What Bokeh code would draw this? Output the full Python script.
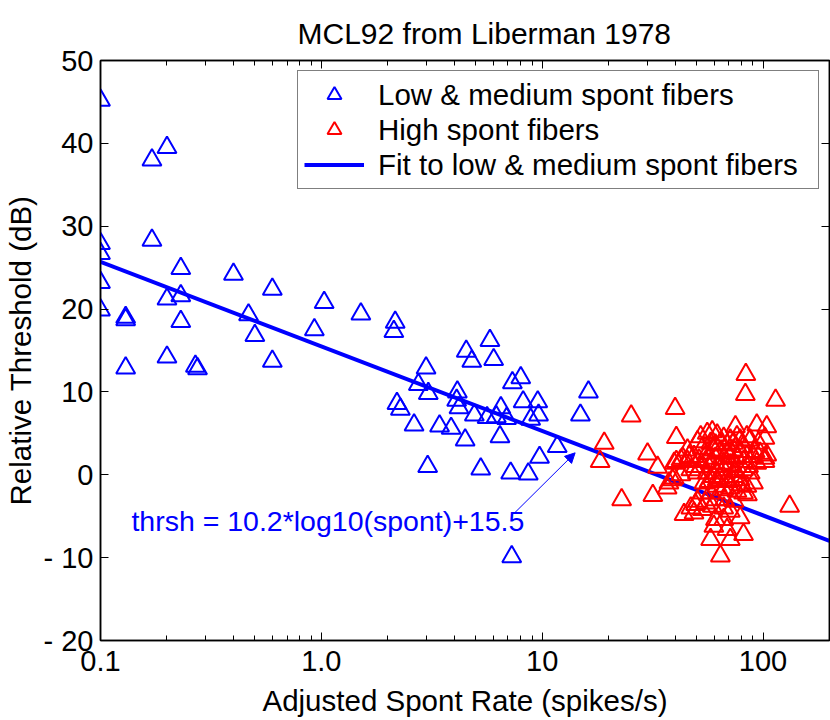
import numpy as np
from bokeh.plotting import figure
from bokeh.models import (Range1d, LogAxis, LinearAxis, FixedTicker, Label, Arrow,
                          NormalHead, Legend, LegendItem, CustomJSTickFormatter)
from bokeh.embed import file_html
from bokeh.resources import INLINE

# ---------------- data ----------------
low_x = [0.1, 0.171, 0.20, 0.1, 0.1, 0.171, 0.231, 0.40, 0.1, 0.60,
         0.20, 0.231, 1.03, 0.1, 0.13, 0.13, 0.468, 0.231, 0.93, 0.50,
         0.20, 0.60, 0.13, 0.269, 0.275, 1.51, 2.16, 2.13, 5.8, 4.53,
         6.03, 4.8, 2.98, 8.0, 7.33, 2.75, 3.05, 16.2, 4.13, 4.1,
         8.2, 9.55, 2.2, 2.28, 4.2, 6.5, 4.93, 5.63, 6.2, 6.9,
         8.87, 9.63, 14.9, 2.63, 3.43, 3.87, 4.48, 6.44, 11.7, 9.73,
         3.03, 5.27, 7.2, 8.65, 7.28]
low_y = [45.2, 38.0, 39.5, 27.9, 26.7, 28.3, 24.9, 24.2, 23.2, 22.4,
         21.2, 21.6, 20.8, 19.9, 19.0, 18.7, 19.3, 18.5, 17.5, 16.8,
         14.2, 13.7, 12.9, 13.1, 12.8, 19.4, 18.4, 17.3, 16.2, 14.9,
         13.9, 13.7, 12.9, 11.7, 11.1, 10.9, 9.8, 10.0, 10.0, 9.0,
         8.8, 8.8, 8.6, 7.9, 8.1, 8.1, 7.2, 6.9, 7.0, 6.8,
         6.7, 7.2, 7.2, 6.0, 5.9, 5.6, 4.2, 4.6, 3.4, 2.1,
         1.0, 0.7, 0.2, 0.1, -9.9]

high_x = [83.6, 83.2, 114, 25.3, 40.0, 40.5, 19.1, 18.3, 30.0, 102,
          22.9, 31.7, 33.3, 38.9, 50.5, 40.5, 43.3, 46.3, 43.9, 47.1,
          49.5, 52.2, 55.9, 58.9, 62.0, 66.4, 71.1, 76.2, 78.8, 39.6,
          42.5, 45.5, 48.7, 51.3, 47.1, 50.4, 42.5, 39.6, 37.5, 36.8,
          55.9, 59.9, 64.1, 68.7, 73.6, 78.8, 84.5, 90.5, 57.9, 62.0,
          66.4, 71.1, 76.2, 81.6, 87.5, 55.9, 59.9, 64.1, 68.7, 73.6,
          78.8, 84.5, 90.5, 62.0, 66.4, 71.1, 76.2, 81.6, 57.9, 54.0,
          50.4, 55.0, 58.9, 66.4, 71.1, 48.7, 53.1, 60.9, 66.4, 78.8,
          59.9, 68.7, 57.9, 71.1, 81.6, 64.1, 93.7, 92.1, 97.0, 95.3,
          87.5, 102, 75.0, 93.7, 104, 102, 104, 132,
          60.9, 64.1, 68.7, 73.6, 57.9, 53.1, 52.2, 55.0, 60.9, 66.4,
          71.1, 76.2, 81.6, 84.5, 81.6, 86.0, 61.9, 66.4, 75.0, 70.0,
          62.0, 57.0, 80.0, 85.0, 53.5, 61.0, 67.0, 74.0, 45.5, 49.5]
high_y = [12.1, 9.7, 9.0, 7.1, 8.0, 4.5, 3.8, 1.6, 2.5, 1.6,
          -3.0, -2.5, 0.9, -0.6, 4.0, 1.6, 2.0, 2.2, -4.8, -4.0,
          -3.6, 4.6, 5.0, 5.2, 4.8, 4.4, 4.2, 4.6, 4.2, 1.4,
          1.8, 1.6, 2.2, 1.8, 0.6, 0.2, 0.0, -0.4, -1.0, -1.6,
          2.6, 3.0, 2.8, 2.6, 3.0, 2.8, 2.2, 2.2, 1.4, 1.0,
          1.4, 1.2, 1.0, 0.6, 0.2, 0.2, -0.2, -0.4, -0.6, -0.2,
          -0.6, -1.4, -1.0, -1.4, -1.8, -1.6, -2.0, -2.2, -2.2, -1.0,
          -3.2, -3.4, -3.8, -4.0, -4.4, -4.6, -4.2, -5.4, -5.4, -5.2,
          -6.2, -6.6, -7.8, -7.8, -7.2, -9.8, 1.4, 2.8, 2.6, 3.8,
          4.2, 2.0, 5.8, 6.0, 5.8, 4.4, 2.4, -3.8,
          3.6, 3.8, 3.6, 3.8, 3.8, 3.2, 1.0, 1.6, 2.0, 2.0,
          2.2, 2.0, 3.4, 4.6, 1.6, 1.0, 0.2, 0.6, 0.4, -0.8,
          -0.6, -0.8, -1.2, -2.4, -2.2, -3.0, -3.0, -3.2, 3.0, 1.0]

fit_slope = -10.2
fit_intercept = 15.5
fit_x = [0.1, 200.0]
fit_y = [fit_slope * np.log10(v) + fit_intercept for v in fit_x]

x_ticks = [0.1, 1, 10, 100]
x_tick_labels = ["0.1", "1.0", "10", "100"]
x_minor_ticks = [0.2, 0.3, 0.4, 0.5, 0.6, 0.7, 0.8, 0.9,
                 2, 3, 4, 5, 6, 7, 8, 9,
                 20, 30, 40, 50, 60, 70, 80, 90, 200]
y_ticks = [-20, -10, 0, 10, 20, 30, 40, 50]
y_tick_labels = ["- 20", "- 10", "0", "10", "20", "30", "40", "50"]

title_text = "MCL92 from Liberman 1978"
x_label = "Adjusted Spont Rate (spikes/s)"
y_label = "Relative Threshold (dB)"
legend_labels = ["Low & medium spont fibers", "High spont fibers",
                 "Fit to low & medium spont fibers"]
note_text = "thrsh = 10.2*log10(spont)+15.5"

# ---------------- figure ----------------
FONT = "Liberation Sans"
BLUE = "#0000ff"
RED = "#ff0000"

p = figure(width=830, height=720, x_axis_type="log",
           x_range=Range1d(0.1, 200), y_range=Range1d(-20, 50),
           output_backend="svg", toolbar_location=None,
           min_border_left=94, min_border_right=1,
           min_border_top=60, min_border_bottom=80)
p.background_fill_color = "white"
p.border_fill_color = "white"
p.outline_line_color = "black"
p.outline_line_width = 1.5
p.xgrid.visible = False
p.ygrid.visible = False

xt = FixedTicker(ticks=x_ticks, minor_ticks=x_minor_ticks)
yt = FixedTicker(ticks=y_ticks, minor_ticks=[])
xfmt = CustomJSTickFormatter(args=dict(vals=x_ticks, labs=x_tick_labels),
                             code="const i = vals.findIndex(v => Math.abs(v - tick) < 1e-9*Math.max(1, Math.abs(v))); return i >= 0 ? labs[i] : '';")
yfmt = CustomJSTickFormatter(args=dict(vals=y_ticks, labs=y_tick_labels),
                             code="const i = vals.findIndex(v => Math.abs(v - tick) < 1e-9); return i >= 0 ? labs[i] : '';")
blank = CustomJSTickFormatter(code="return '';")

def style_axis(ax):
    ax.axis_line_color = "black"
    ax.axis_line_width = 1.5
    ax.major_tick_line_color = "black"
    ax.minor_tick_line_color = "black"
    ax.major_tick_line_width = 1
    ax.minor_tick_line_width = 1
    ax.major_tick_in = 8
    ax.major_tick_out = 0
    ax.minor_tick_in = 5
    ax.minor_tick_out = 0
    ax.major_label_text_font = FONT
    ax.major_label_text_color = "black"
    ax.axis_label_text_font = FONT
    ax.axis_label_text_font_style = "normal"
    ax.axis_label_text_color = "black"

xa = p.xaxis[0]
style_axis(xa)
xa.ticker = xt
xa.formatter = xfmt
xa.major_label_text_font_size = "29px"
xa.major_label_standoff = 10
xa.axis_label = x_label
xa.axis_label_text_font_size = "29.5px"
xa.axis_label_standoff = 10

ya = p.yaxis[0]
style_axis(ya)
ya.ticker = yt
ya.formatter = yfmt
ya.major_label_text_font_size = "29px"
ya.major_label_standoff = 7
ya.major_label_orientation = "horizontal"
ya.axis_label = y_label
ya.axis_label_text_font_size = "29.5px"
ya.axis_label_standoff = 4

top_ax = LogAxis(ticker=xt, formatter=blank)
style_axis(top_ax)
top_ax.major_label_text_font_size = "0px"
top_ax.major_label_standoff = 0
p.add_layout(top_ax, "above")

right_ax = LinearAxis(ticker=yt, formatter=blank)
style_axis(right_ax)
right_ax.major_label_text_font_size = "0px"
right_ax.major_label_standoff = 0
p.add_layout(right_ax, "right")

p.title.text = title_text
p.title.text_font = FONT
p.title.text_font_size = "30px"
p.title.text_font_style = "normal"
p.title.text_color = "black"
p.title.align = "left"
p.title.offset = 197
p.title.standoff = 22

# ---------------- glyphs ----------------
r_fit = p.line(fit_x, fit_y, line_color=BLUE, line_width=4)
r_low = p.scatter(low_x, low_y, marker="triangle", size=19,
                  fill_color=None, line_color=BLUE, line_width=2)
r_high = p.scatter(high_x, high_y, marker="triangle", size=19,
                   fill_color=None, line_color=RED, line_width=2)

note = Label(x=0.138, y=-5.6, text=note_text, text_color=BLUE,
             text_font=FONT, text_font_size="28.5px", text_baseline="middle")
p.add_layout(note)

arrow = Arrow(end=NormalHead(size=10, fill_color=BLUE, line_color=BLUE, line_width=1),
              x_start=7.5, y_start=-4.6, x_end=14.1, y_end=2.65,
              line_color=BLUE, line_width=1)
p.add_layout(arrow)

legend = Legend(items=[LegendItem(label=legend_labels[0], renderers=[r_low]),
                       LegendItem(label=legend_labels[1], renderers=[r_high]),
                       LegendItem(label=legend_labels[2], renderers=[r_fit])],
                location="top_right", margin=10, padding=6, spacing=0,
                glyph_width=60, glyph_height=35, label_height=35,
                label_standoff=14, label_width=434,
                label_text_font=FONT, label_text_font_size="29.5px",
                label_text_color="black",
                border_line_color="black", border_line_width=1.5,
                background_fill_color="white", background_fill_alpha=1.0)
p.add_layout(legend, "center")

open("out.html", "w").write(file_html(p, INLINE))
